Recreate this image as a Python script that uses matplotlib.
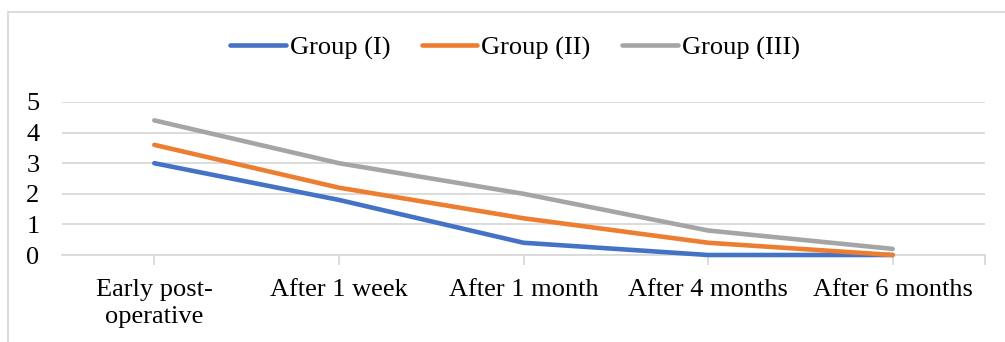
import matplotlib
matplotlib.use("Agg")
import matplotlib.pyplot as plt
from matplotlib.patches import Rectangle

categories = ["Early post-\noperative", "After 1 week", "After 1 month", "After 4 months", "After 6 months"]
group_1 = [3.0, 1.8, 0.4, 0.0, 0.0]
group_2 = [3.6, 2.2, 1.2, 0.4, 0.0]
group_3 = [4.4, 3.0, 2.0, 0.8, 0.2]
series_names = ["Group (I)", "Group (II)", "Group (III)"]
colors = ["#4472C4", "#ED7D31", "#A5A5A5"]

plt.rcParams['font.family'] = ['Liberation Serif', 'DejaVu Serif']

fig = plt.figure(figsize=(10.05, 3.42), dpi=100)
ax = fig.add_axes([62/1005, 1-255/342, (985-62)/1005, (255-102)/342])

x = list(range(len(categories)))
for vals, name, c in zip([group_1, group_2, group_3], series_names, colors):
    ax.plot(x, vals, color=c, lw=3.3, label=name, solid_capstyle='round',
            solid_joinstyle='round', clip_on=False, zorder=3)

ax.set_xlim(-0.5, len(categories) - 0.5)
ax.set_ylim(0, 5)
ax.set_yticks(range(0, 6))
ax.yaxis.grid(True, color="#D9D9D9", lw=1.3)
ax.set_axisbelow(True)
for s in ["top", "right", "left"]:
    ax.spines[s].set_visible(False)
ax.spines["bottom"].set_color("#D9D9D9")
ax.spines["bottom"].set_linewidth(1.3)
ax.tick_params(axis='y', length=0, labelsize=19, pad=21, colors='black')
for lbl in ax.get_yticklabels():
    lbl.set_horizontalalignment('center')
ax.set_xticks(x + [len(categories) - 0.5])
ax.set_xticklabels(categories + [""])
ax.tick_params(axis='x', length=7, width=1.3, color="#D9D9D9", labelsize=19, pad=10)
for lbl in ax.get_xticklabels():
    lbl.set_linespacing(1.3)

leg = fig.legend(loc='center', bbox_to_anchor=(515/1005, 1-48/342), ncol=3, frameon=False,
                 fontsize=19, handlelength=2.1, handletextpad=0.15, columnspacing=1.2)

fig.patches.append(Rectangle((8/1005, -0.1), 1.2, 1 - 12/342 + 0.1, transform=fig.transFigure,
                             fill=False, edgecolor="#D9D9D9", lw=1.3))

fig.savefig("out.png", dpi=100, facecolor="white")
